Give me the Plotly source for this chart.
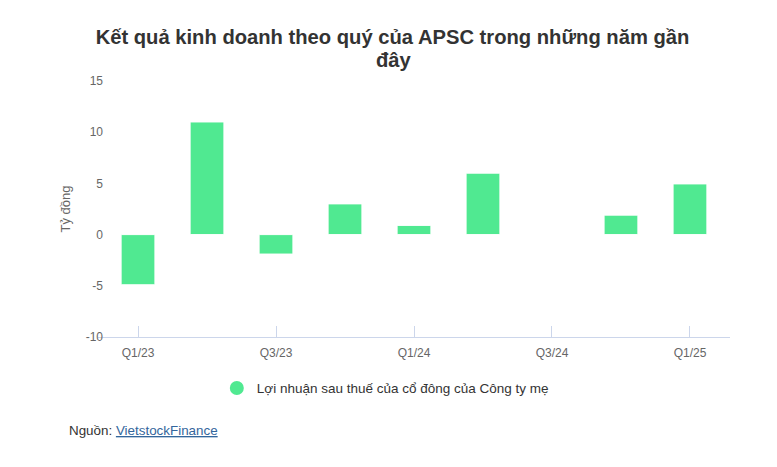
import plotly.graph_objects as go

quarters = ["Q1/23", "Q2/23", "Q3/23", "Q4/23", "Q1/24", "Q2/24", "Q3/24", "Q4/24", "Q1/25"]
profit = [-4.9, 11.0, -1.9, 3.0, 0.9, 6.0, None, 1.9, 4.95]
x_tick_labels = ["Q1/23", "Q3/23", "Q1/24", "Q3/24", "Q1/25"]
y_tick_values = [-10, -5, 0, 5, 10, 15]
y_tick_labels = ["-10", "-5", "0", "5", "10", "15"]
series_name = "Lợi nhuận sau thuế của cổ đông của Công ty mẹ"
title_line1 = "Kết quả kinh doanh theo quý của APSC trong những năm gần"
title_line2 = "đây"
y_title = "Tỷ đồng"

bar_color = "#50e991"
FONT = "Liberation Sans, Arial, sans-serif"

PLOT_LEFT, PLOT_RIGHT = 90, 722
PLOT_TOP, PLOT_BOTTOM = 73, 329.5
PLOT_W = PLOT_RIGHT - PLOT_LEFT
PLOT_H = PLOT_BOTTOM - PLOT_TOP


def paper_x(px):
    return (px - PLOT_LEFT) / PLOT_W


def paper_y(px):
    return (PLOT_BOTTOM - px) / PLOT_H


fig = go.Figure()
fig.add_trace(go.Bar(
    x=quarters, y=profit, name=series_name, showlegend=False,
    marker=dict(color=bar_color, line=dict(color="#ffffff", width=1)),
    width=0.49,
))
fig.add_trace(go.Scatter(
    x=[None], y=[None], mode="markers", name=series_name,
    marker=dict(symbol="circle", size=14, color=bar_color),
))

fig.update_layout(
    width=777, height=467,
    margin=dict(l=PLOT_LEFT, r=777 - PLOT_RIGHT, t=PLOT_TOP, b=467 - PLOT_BOTTOM),
    paper_bgcolor="white", plot_bgcolor="white",
    font=dict(family=FONT, color="#333333"),
    title=dict(text=title_line1, x=384.5 / 777, xanchor="center", y=1 - 29 / 467, yanchor="middle",
               font=dict(size=20.2, color="#333333", family=FONT, weight="bold")),
    showlegend=True,
    legend=dict(orientation="h", x=0.188, xanchor="left", y=-0.2, yanchor="middle",
                font=dict(size=13.5, color="#333333"), itemsizing="trace"),
)
fig.add_annotation(
    xref="paper", yref="paper", x=paper_x(386), y=paper_y(52), xanchor="center", yanchor="middle",
    showarrow=False, text="<b>" + title_line2 + "</b>",
    font=dict(size=20.2, color="#333333", family=FONT),
)
fig.update_xaxes(
    type="category", range=[-0.58, 8.58],
    tickmode="array", tickvals=x_tick_labels, ticktext=x_tick_labels,
    ticks="inside", ticklen=11, tickcolor="#ccd6eb", tickwidth=1,
    showline=True, linecolor="#ccd6eb", linewidth=1,
    showgrid=False, zeroline=False, ticklabelstandoff=5,
    tickfont=dict(size=12, color="#666666"),
)
fig.update_yaxes(
    range=[-10, 15], tickmode="array", tickvals=y_tick_values, ticktext=y_tick_labels,
    showgrid=False, zeroline=False, showline=False, ticklabelstandoff=-6,
    tickfont=dict(size=12, color="#666666"),
    title=dict(text=y_title, font=dict(size=13, color="#666666"), standoff=12),
)
fig.add_annotation(
    xref="paper", yref="paper", x=paper_x(59), y=paper_y(423), xanchor="left", yanchor="middle",
    showarrow=False,
    text="Nguồn: <a href='https://finance.vietstock.vn/' style='color:#33669c'><u>VietstockFinance</u></a>",
    font=dict(size=13.4, color="#333333"),
)

fig.write_html("out.html")
